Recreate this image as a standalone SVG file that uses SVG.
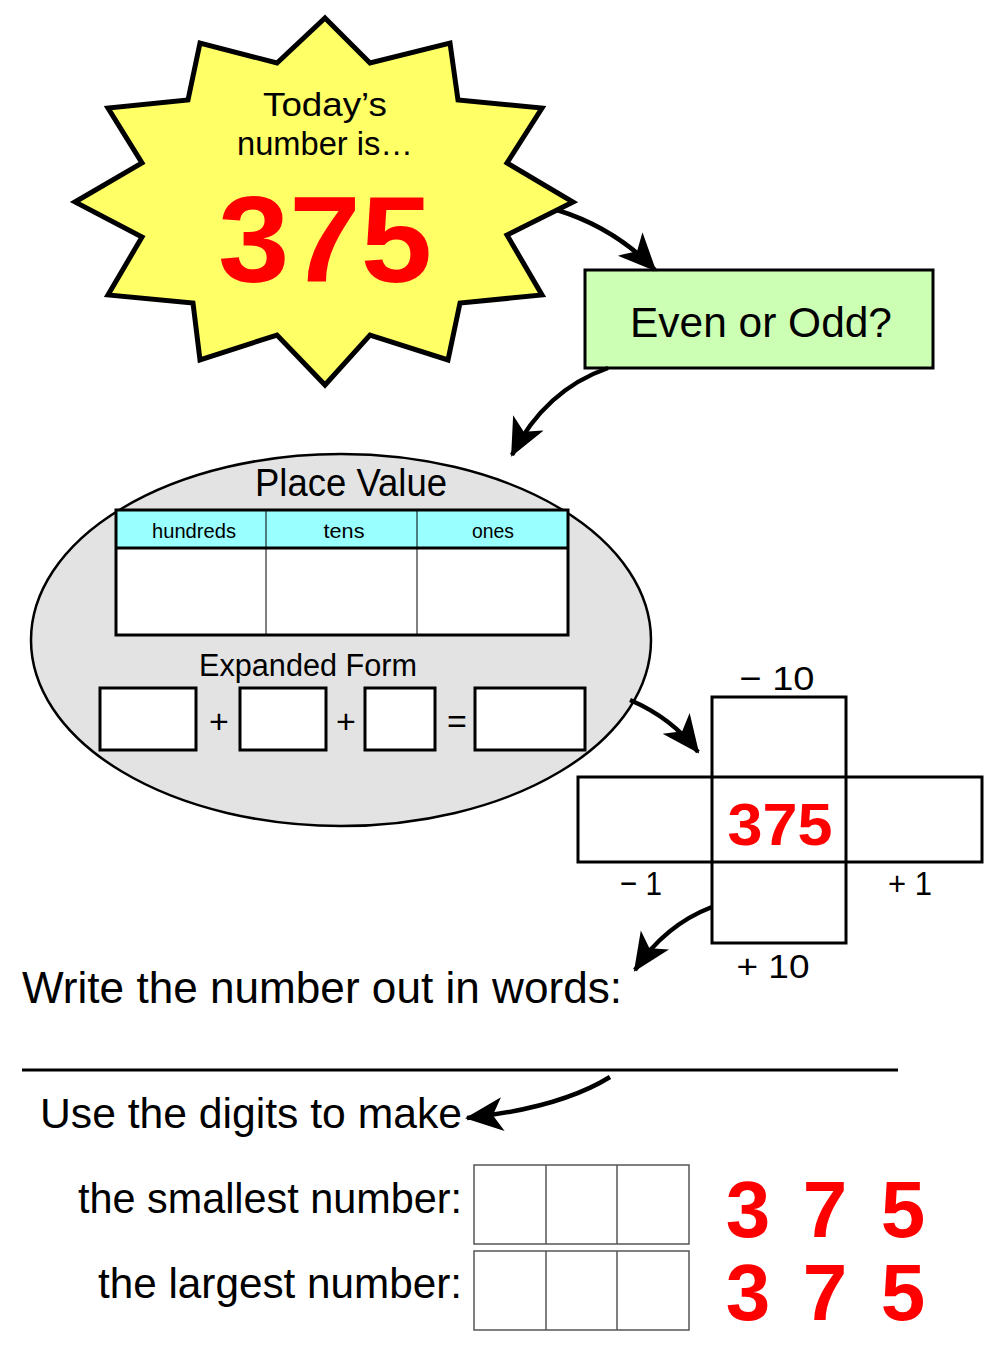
<svg xmlns="http://www.w3.org/2000/svg" width="1000" height="1350" viewBox="0 0 1000 1350">
<style>
.t{font-family:"Liberation Sans",Arial,sans-serif;fill:#000}
.r{font-family:"Liberation Sans",Arial,sans-serif;font-weight:bold;fill:#ff0000}
.box{fill:#fff;stroke:#000;stroke-width:3}
.thin{fill:none;stroke:#000;stroke-width:1}
.conn{fill:none;stroke:#000;stroke-width:4.5;marker-end:url(#ah)}
.grid{fill:#fff;stroke:#555;stroke-width:1.5}
</style>
<defs>
<marker id="ah" markerUnits="userSpaceOnUse" markerWidth="40" markerHeight="36" refX="36" refY="17" orient="auto">
<path d="M0,0 L38,17 L0,34 L10,17 z" fill="#000"/>
</marker>
</defs>
<rect width="1000" height="1350" fill="#fff"/>

<g id="star">
<polygon points="325,18 370,63 450,43 458,100 542,108 507,163 573,202 507,235 542,295 460,303 448,360 370,335 325,385 277,335 200,360 193,303 108,295 142,237 75,202 142,163 108,108 188,100 200,43 277,63" fill="#ffff66" stroke="#000" stroke-width="5" stroke-linejoin="miter"/>
<text class="t" x="325" y="116" font-size="34" text-anchor="middle" textLength="124" lengthAdjust="spacingAndGlyphs">Today’s</text>
<text class="t" x="325" y="155" font-size="34" text-anchor="middle" textLength="176" lengthAdjust="spacingAndGlyphs">number is…</text>
<text class="r" x="325" y="282" font-size="122" text-anchor="middle" textLength="214" lengthAdjust="spacingAndGlyphs">375</text>
</g>

<g id="even-odd">
<rect x="585" y="270" width="348" height="98" fill="#ccffb3" stroke="#000" stroke-width="3"/>
<text class="t" x="630" y="337" font-size="42" textLength="262" lengthAdjust="spacingAndGlyphs">Even or  Odd?</text>
</g>

<g id="place-value">
<ellipse cx="341" cy="640" rx="310" ry="186" fill="#e3e3e3" stroke="#000" stroke-width="2.5"/>
<text class="t" x="351" y="496" font-size="38" text-anchor="middle" textLength="192" lengthAdjust="spacingAndGlyphs">Place Value</text>
<rect x="116" y="510" width="452" height="38" fill="#99ffff"/>
<rect x="116" y="548" width="452" height="87" fill="#fff"/>
<line class="thin" x1="266" y1="510" x2="266" y2="635"/>
<line class="thin" x1="417" y1="510" x2="417" y2="635"/>
<line x1="116" y1="548" x2="568" y2="548" stroke="#000" stroke-width="3"/>
<rect x="116" y="510" width="452" height="125" fill="none" stroke="#000" stroke-width="3"/>
<text class="t" x="194" y="538" font-size="21" text-anchor="middle" textLength="84" lengthAdjust="spacingAndGlyphs">hundreds</text>
<text class="t" x="344" y="538" font-size="21" text-anchor="middle" textLength="41" lengthAdjust="spacingAndGlyphs">tens</text>
<text class="t" x="493" y="538" font-size="21" text-anchor="middle" textLength="42" lengthAdjust="spacingAndGlyphs">ones</text>
<text class="t" x="308" y="676" font-size="31" text-anchor="middle" textLength="218" lengthAdjust="spacingAndGlyphs">Expanded Form</text>
<rect class="box" x="100" y="688" width="96" height="62"/>
<rect class="box" x="240" y="688" width="86" height="62"/>
<rect class="box" x="365" y="688" width="70" height="62"/>
<rect class="box" x="475" y="688" width="110" height="62"/>
<text class="t" x="219" y="733" font-size="34" text-anchor="middle">+</text>
<text class="t" x="346" y="733" font-size="34" text-anchor="middle">+</text>
<text class="t" x="457" y="733" font-size="34" text-anchor="middle">=</text>
</g>

<g id="cross">
<rect class="box" x="712" y="697" width="134" height="246"/>
<rect class="box" x="578" y="777" width="404" height="85"/>
<line x1="712" y1="777" x2="712" y2="862" stroke="#000" stroke-width="3"/>
<line x1="846" y1="777" x2="846" y2="862" stroke="#000" stroke-width="3"/>
<text class="r" x="780" y="845" font-size="60" text-anchor="middle" textLength="105" lengthAdjust="spacingAndGlyphs">375</text>
<text class="t" x="777" y="690" font-size="34" text-anchor="middle" textLength="75" lengthAdjust="spacingAndGlyphs">− 10</text>
<text class="t" x="641" y="895" font-size="34" text-anchor="middle" textLength="42" lengthAdjust="spacingAndGlyphs">− 1</text>
<text class="t" x="910" y="895" font-size="34" text-anchor="middle" textLength="44" lengthAdjust="spacingAndGlyphs">+ 1</text>
<text class="t" x="773" y="978" font-size="34" text-anchor="middle" textLength="73" lengthAdjust="spacingAndGlyphs">+ 10</text>
</g>

<g id="words">
<text class="t" x="22" y="1003" font-size="44" textLength="600" lengthAdjust="spacingAndGlyphs">Write the number out in words:</text>
<line x1="22" y1="1070" x2="898" y2="1070" stroke="#000" stroke-width="3"/>
</g>

<g id="digits">
<text class="t" x="40" y="1128" font-size="42" textLength="422" lengthAdjust="spacingAndGlyphs">Use the digits to make</text>
<text class="t" x="78" y="1213" font-size="42" textLength="384" lengthAdjust="spacingAndGlyphs">the smallest number:</text>
<text class="t" x="98" y="1298" font-size="42" textLength="364" lengthAdjust="spacingAndGlyphs">the largest number:</text>
<rect class="grid" x="474" y="1165" width="215" height="79"/>
<line class="grid" x1="546" y1="1165" x2="546" y2="1244"/>
<line class="grid" x1="617" y1="1165" x2="617" y2="1244"/>
<rect class="grid" x="474" y="1251" width="215" height="79"/>
<line class="grid" x1="546" y1="1251" x2="546" y2="1330"/>
<line class="grid" x1="617" y1="1251" x2="617" y2="1330"/>
<text class="r" x="748" y="1237" font-size="80" text-anchor="middle">3</text>
<text class="r" x="825" y="1237" font-size="80" text-anchor="middle">7</text>
<text class="r" x="903" y="1237" font-size="80" text-anchor="middle">5</text>
<text class="r" x="748" y="1320" font-size="80" text-anchor="middle">3</text>
<text class="r" x="825" y="1320" font-size="80" text-anchor="middle">7</text>
<text class="r" x="903" y="1320" font-size="80" text-anchor="middle">5</text>
</g>

<g id="connectors">
<path class="conn" d="M557,210 Q615,228 655,270"/>
<path class="conn" d="M608,368 Q545,390 512,455"/>
<path class="conn" d="M630,700 Q672,718 698,752"/>
<path class="conn" d="M712,907 Q665,925 635,970"/>
<path class="conn" d="M610,1077 Q560,1108 467,1118"/>
</g>
</svg>
